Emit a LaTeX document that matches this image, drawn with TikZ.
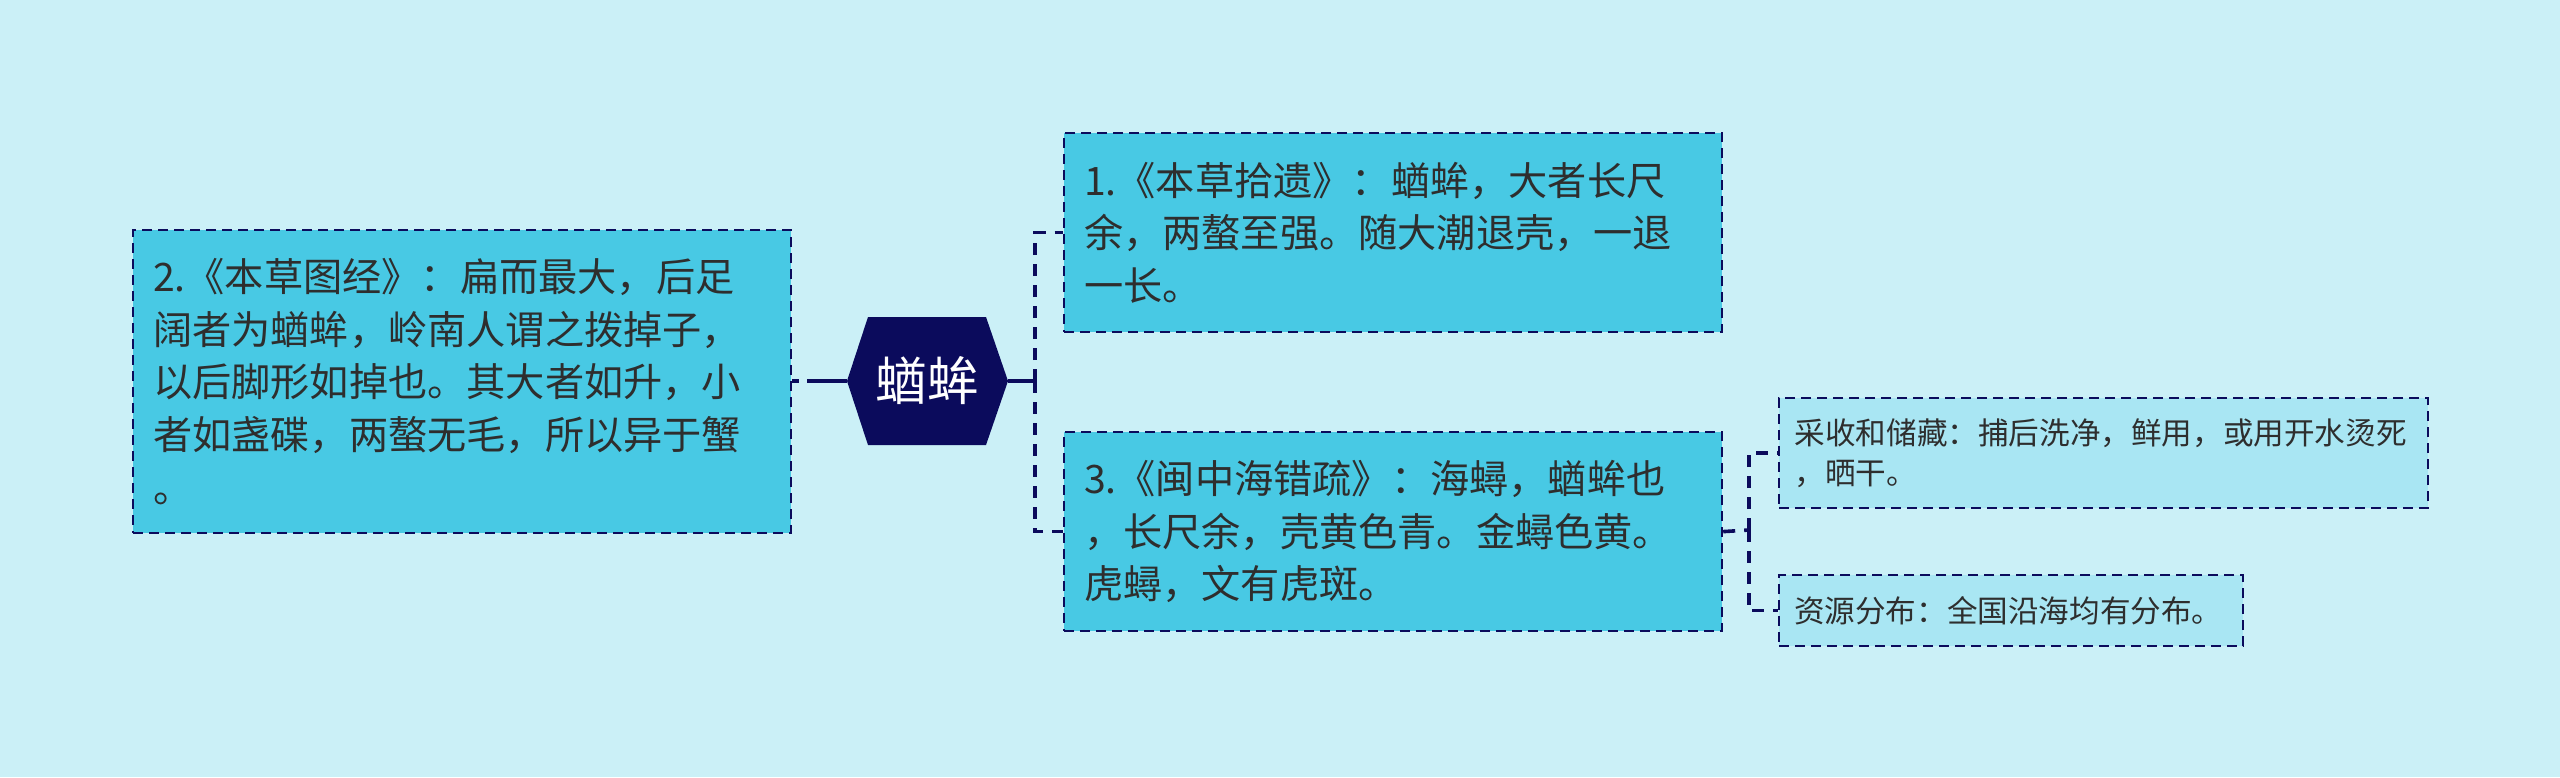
\documentclass[tikz,border=0pt]{standalone}
\usepackage{fontspec}
\newfontfamily\cjk{Noto Sans CJK SC}
\definecolor{bgc}{HTML}{CBF0F7}
\definecolor{mainfill}{HTML}{48C9E4}
\definecolor{subfill}{HTML}{A9E6F3}
\definecolor{navy}{HTML}{0B0B5C}
\definecolor{txt}{HTML}{2E2E2E}
\tikzset{
  mainbox/.style={anchor=north west, draw=navy, line width=1.1pt, dash pattern=on 5pt off 3pt,
    fill=mainfill, text=txt, align=left, inner xsep=10pt, inner ysep=0pt,
    font=\cjk\fontsize{19.6pt}{26.3pt}\selectfont},
  subbox/.style={anchor=north west, draw=navy, line width=1.1pt, dash pattern=on 5pt off 3pt,
    fill=subfill, text=txt, align=left, inner xsep=7.5pt, inner ysep=0pt,
    font=\cjk\fontsize{15.3pt}{20pt}\selectfont},
  hexroot/.style={minimum width=80.5pt, minimum height=64pt, inner sep=0pt, fill=bgc,
    text=white, font=\cjk\fontsize{26pt}{30pt}\selectfont,
    path picture={\fill[navy] (path picture bounding box.west)
      -- ([xshift=10.5pt]path picture bounding box.north west)
      -- ([xshift=-11pt]path picture bounding box.north east)
      -- (path picture bounding box.east)
      -- ([xshift=-11pt]path picture bounding box.south east)
      -- ([xshift=10.5pt]path picture bounding box.south west) -- cycle;}},
  solidconn/.style={draw=navy, line width=1.8pt},
  dashconn/.style={draw=navy, line width=1.8pt, dash pattern=on 6pt off 4.5pt},
  shortdash/.style={draw=navy, line width=1.8pt, dash pattern=on 3.5pt off 5pt},
}
\begin{document}
\begin{tikzpicture}[x=0.5pt, y=-0.5pt]
\useasboundingbox (0,0) rectangle (2560,777);
\fill[bgc] (0,0) rectangle (2560,777);

\node[hexroot] (root) at (927.5,381) {蝤蛑};

\node[mainbox, minimum width=329pt, minimum height=151.5pt, text width=309pt] (b2) at (132,229)
  {2.《本草图经》：扁而最大，后足\\阔者为蝤蛑，岭南人谓之拨掉子，\\以后脚形如掉也。其大者如升，小\\者如盏碟，两螯无毛，所以异于蟹\\。};

\node[mainbox, minimum width=329pt, minimum height=99.5pt, text width=309pt] (b1) at (1063,132)
  {1.《本草拾遗》：蝤蛑，大者长尺\\余，两螯至强。随大潮退壳，一退\\一长。};

\node[mainbox, minimum width=329pt, minimum height=99.5pt, text width=309pt] (b3) at (1063,431)
  {3.《闽中海错疏》：海蟳，蝤蛑也\\，长尺余，壳黄色青。金蟳色黄。\\虎蟳，文有虎斑。};

\node[subbox, minimum width=324.5pt, minimum height=55pt, text width=309pt] (s1) at (1778,397)
  {采收和储藏：捕后洗净，鲜用，或用开水烫死\\，晒干。};

\node[subbox, minimum width=232pt, minimum height=35.5pt, text width=217pt] (s2) at (1778,574)
  {资源分布：全国沿海均有分布。};

\coordinate (eL) at (807,381);
\coordinate (eR) at (1035,381);
\coordinate (e3) at (1749,530);

\draw[solidconn] (root.west) -- (eL);
\draw[shortdash] (b2.east |- eL) -- (eL);
\draw[solidconn] (root.east) -- (eR);
\draw[dashconn] (eR) |- (b1.west);
\draw[dashconn] (eR) |- (b3.west);
\draw[dashconn] (b3.east) -- (e3);
\draw[dashconn] (e3) |- (s1.west);
\draw[dashconn] (e3) |- (s2.west);
\end{tikzpicture}
\end{document}
